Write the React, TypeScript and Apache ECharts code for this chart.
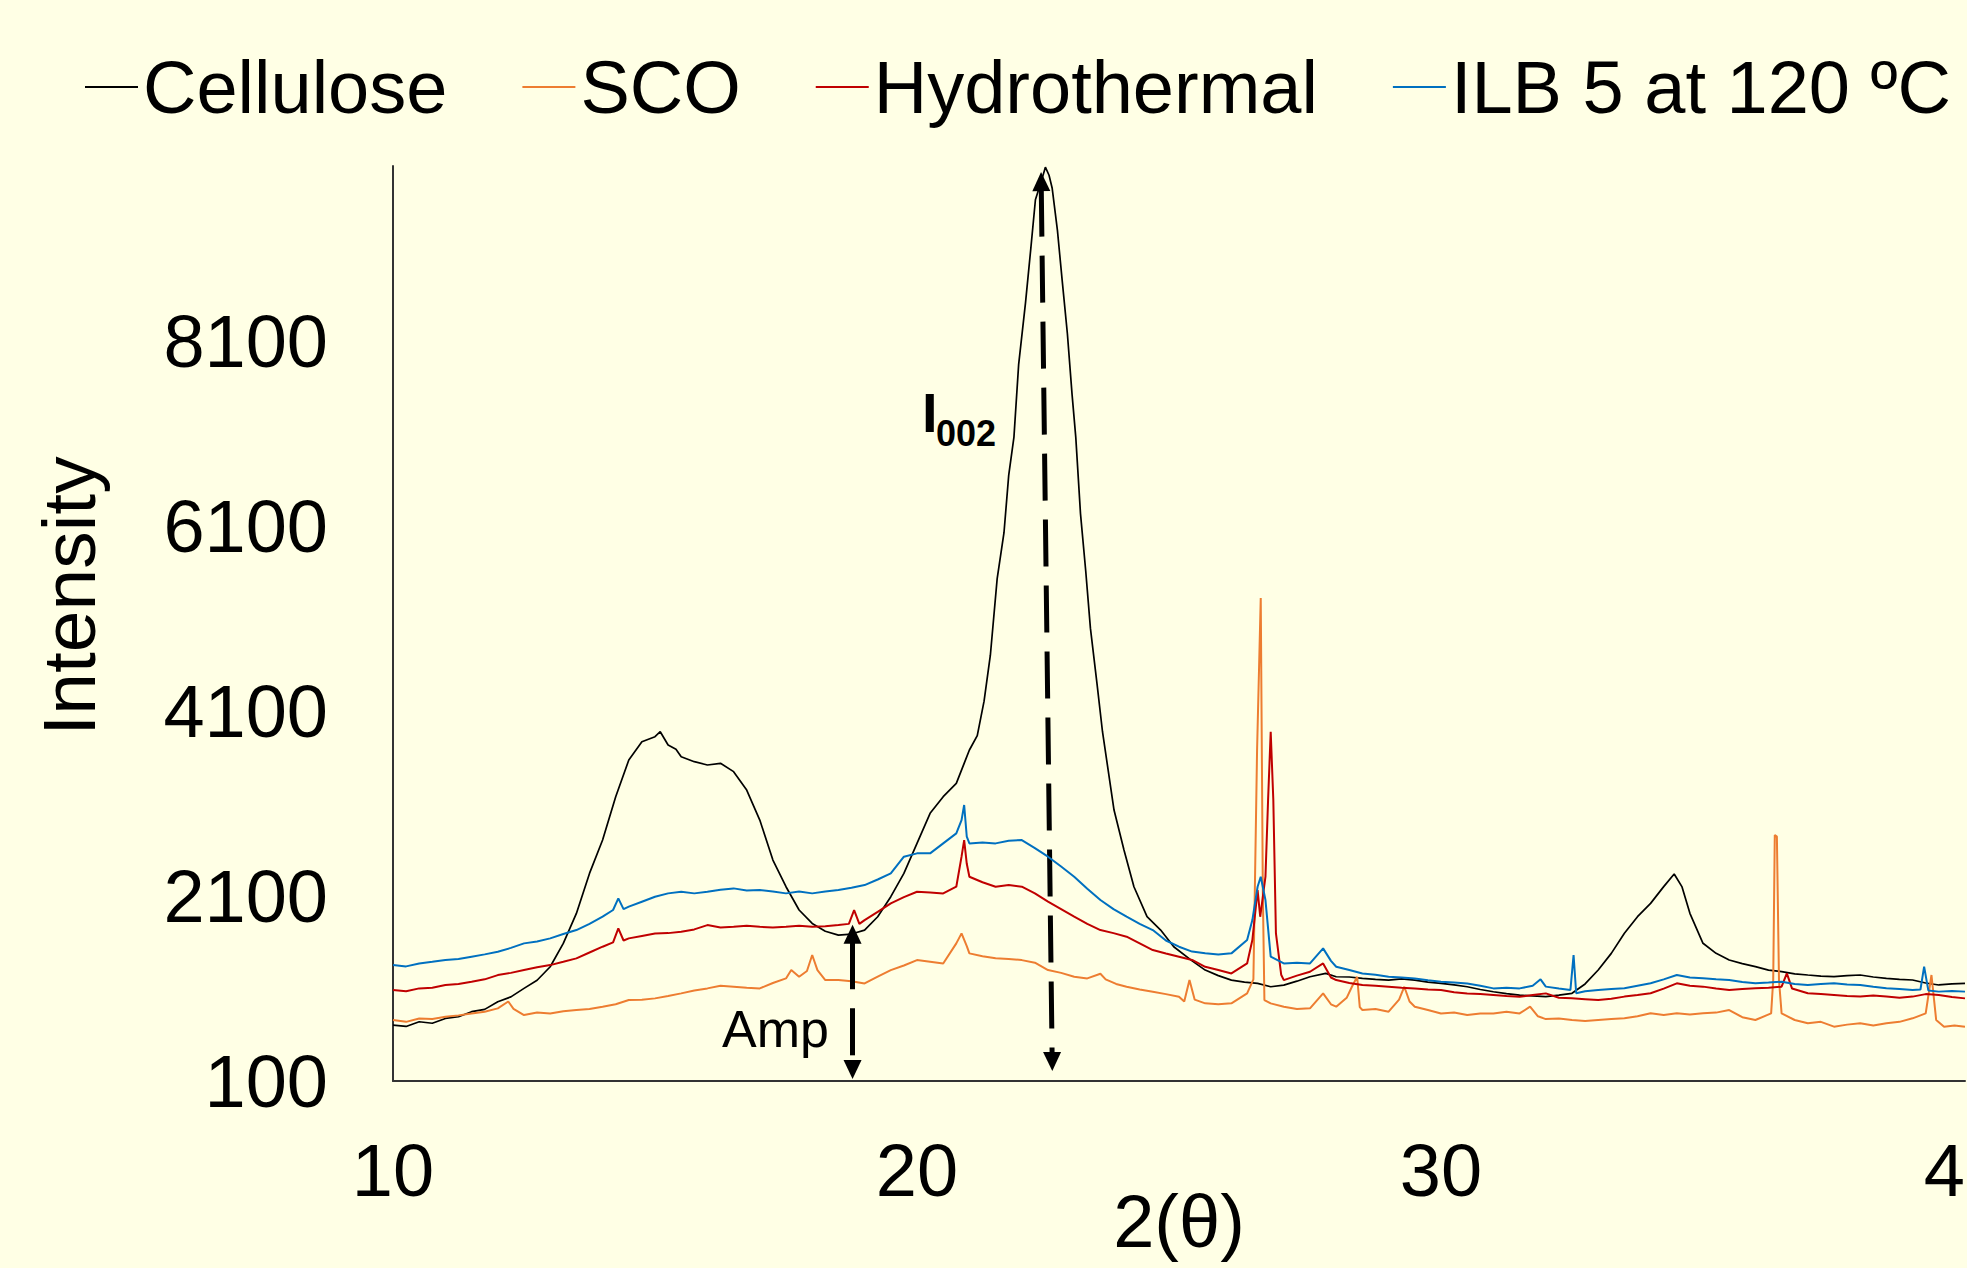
import React, { useEffect, useRef } from 'react';
import * as echarts from 'echarts';

const seriesNames = ['Cellulose', 'SCO', 'Hydrothermal', 'ILB 5 at 120 ºC'];
const seriesColors = ['#000000', '#ED7D31', '#C00000', '#0070C0'];
const yTickValues = [100, 2100, 4100, 6100, 8100];

const cellulose: [number, number][] = [
  [10, 705], [10.25, 690], [10.5, 741], [10.75, 725], [11, 777], [11.25, 795], [11.5, 850], [11.75, 875],
  [12, 958], [12.25, 1010], [12.5, 1102], [12.75, 1190], [13, 1336], [13.25, 1589], [13.5, 1913],
  [13.75, 2346], [14, 2707], [14.25, 3176], [14.5, 3573], [14.75, 3771], [15, 3825], [15.1, 3879],
  [15.25, 3735], [15.4, 3690], [15.5, 3609], [15.75, 3555], [16, 3519], [16.25, 3537], [16.5, 3447],
  [16.75, 3248], [17, 2923], [17.25, 2491], [17.5, 2202], [17.75, 1950], [18, 1805], [18.25, 1720],
  [18.5, 1679], [18.75, 1690], [19, 1733], [19.25, 1877], [19.5, 2094], [19.75, 2346], [20, 2671],
  [20.25, 2996], [20.5, 3176], [20.75, 3320], [20.9, 3537], [21, 3681], [21.15, 3837], [21.28, 4210],
  [21.4, 4707], [21.53, 5535], [21.66, 6032], [21.75, 6653], [21.85, 7067], [21.94, 7854], [22.07, 8517],
  [22.17, 9096], [22.26, 9635], [22.38, 9850], [22.45, 9987], [22.52, 9900], [22.58, 9759], [22.68, 9303],
  [22.77, 8765], [22.87, 8185], [22.96, 7523], [23.03, 7067], [23.12, 6239], [23.22, 5618], [23.31, 4997],
  [23.44, 4376], [23.54, 3879], [23.76, 3032], [23.95, 2599], [24.14, 2202], [24.39, 1878], [24.65, 1733],
  [24.9, 1553], [25.25, 1400], [25.5, 1300], [25.75, 1240], [26, 1192], [26.25, 1170], [26.5, 1156],
  [26.75, 1120], [27, 1138], [27.25, 1180], [27.5, 1228], [27.8, 1264], [28, 1228], [28.25, 1225],
  [28.5, 1210], [28.75, 1200], [29, 1192], [29.25, 1205], [29.5, 1192], [29.75, 1170], [30, 1156],
  [30.25, 1140], [30.5, 1120], [30.75, 1090], [31, 1066], [31.25, 1045], [31.5, 1030], [31.75, 1020],
  [32, 1012], [32.25, 1030], [32.5, 1049], [32.75, 1150], [33, 1301], [33.25, 1481], [33.5, 1698],
  [33.75, 1878], [34, 2022], [34.25, 2203], [34.45, 2340], [34.6, 2200], [34.75, 1914], [35, 1590],
  [35.25, 1481], [35.5, 1409], [35.75, 1370], [36, 1337], [36.25, 1300], [36.5, 1283], [36.75, 1260],
  [37, 1247], [37.25, 1235], [37.5, 1229], [37.75, 1240], [38, 1247], [38.25, 1225], [38.5, 1211],
  [38.75, 1200], [39, 1193], [39.25, 1160], [39.5, 1139], [39.75, 1150], [40, 1157]
];

const sco: [number, number][] = [
  [10, 759], [10.25, 740], [10.5, 777], [10.75, 770], [11, 795], [11.25, 810], [11.5, 831], [11.75, 850],
  [12, 886], [12.2, 960], [12.3, 880], [12.5, 813], [12.75, 840], [13, 831], [13.25, 855], [13.5, 868],
  [13.75, 880], [14, 904], [14.25, 930], [14.5, 976], [14.75, 980], [15, 994], [15.25, 1020], [15.5, 1048],
  [15.75, 1080], [16, 1102], [16.25, 1130], [16.5, 1120], [16.75, 1110], [17, 1102], [17.25, 1160],
  [17.5, 1210], [17.6, 1300], [17.75, 1228], [17.9, 1290], [18, 1463], [18.1, 1300], [18.25, 1192],
  [18.5, 1192], [18.75, 1180], [19, 1156], [19.25, 1230], [19.5, 1300], [19.75, 1350], [20, 1408],
  [20.25, 1390], [20.5, 1372], [20.75, 1589], [20.85, 1697], [20.95, 1560], [21, 1481], [21.25, 1450],
  [21.5, 1427], [21.75, 1420], [22, 1408], [22.25, 1380], [22.5, 1300], [22.75, 1270], [23, 1228],
  [23.25, 1210], [23.5, 1260], [23.6, 1200], [23.8, 1150], [24, 1120], [24.25, 1090], [24.5, 1066],
  [24.75, 1040], [25, 1012], [25.1, 960], [25.2, 1192], [25.3, 980], [25.5, 940], [25.75, 930], [26, 940],
  [26.3, 1048], [26.42, 1200], [26.49, 3681], [26.56, 5326], [26.6, 2134], [26.63, 976], [26.75, 940],
  [27, 904], [27.25, 880], [27.5, 886], [27.75, 1048], [27.9, 930], [28, 904], [28.2, 1000], [28.3, 1120],
  [28.4, 1228], [28.45, 900], [28.5, 868], [28.75, 880], [29, 850], [29.2, 980], [29.3, 1120], [29.4, 960],
  [29.5, 904], [29.75, 868], [30, 831], [30.25, 840], [30.5, 813], [30.75, 830], [31, 831], [31.25, 850],
  [31.5, 831], [31.7, 904], [31.85, 800], [32, 770], [32.25, 775], [32.5, 760], [32.75, 750], [33, 760],
  [33.25, 770], [33.5, 778], [33.75, 800], [34, 832], [34.25, 815], [34.5, 832], [34.75, 820], [35, 832],
  [35.25, 840], [35.5, 868], [35.75, 790], [36, 760], [36.3, 832], [36.34, 1193], [36.37, 2762],
  [36.41, 2744], [36.45, 1193], [36.5, 832], [36.75, 760], [37, 724], [37.25, 740], [37.5, 688],
  [37.75, 710], [38, 724], [38.25, 700], [38.5, 724], [38.75, 740], [39, 778], [39.25, 832], [39.36, 1247],
  [39.45, 760], [39.6, 688], [39.8, 700], [40, 688]
];

const hydrothermal: [number, number][] = [
  [10, 1084], [10.25, 1070], [10.5, 1102], [10.75, 1110], [11, 1138], [11.25, 1150], [11.5, 1174],
  [11.75, 1200], [12, 1246], [12.25, 1270], [12.5, 1300], [12.75, 1330], [13, 1354], [13.25, 1390],
  [13.5, 1427], [13.75, 1490], [14, 1553], [14.2, 1600], [14.3, 1751], [14.4, 1620], [14.5, 1643],
  [14.75, 1670], [15, 1697], [15.25, 1700], [15.5, 1715], [15.75, 1740], [16, 1787], [16.25, 1760],
  [16.5, 1769], [16.75, 1780], [17, 1769], [17.25, 1760], [17.5, 1769], [17.75, 1780], [18, 1769],
  [18.25, 1775], [18.5, 1787], [18.7, 1800], [18.8, 1949], [18.9, 1800], [19, 1841], [19.25, 1930],
  [19.5, 2022], [19.75, 2090], [20, 2148], [20.25, 2140], [20.5, 2130], [20.75, 2202], [20.85, 2527],
  [20.9, 2707], [20.95, 2450], [21, 2310], [21.25, 2250], [21.5, 2202], [21.75, 2220], [22, 2202],
  [22.25, 2130], [22.5, 2040], [22.75, 1960], [23, 1878], [23.25, 1800], [23.5, 1733], [23.75, 1700],
  [24, 1661], [24.25, 1590], [24.5, 1517], [24.75, 1480], [25, 1445], [25.25, 1410], [25.5, 1336],
  [25.75, 1300], [26, 1264], [26.3, 1372], [26.4, 1625], [26.5, 2166], [26.55, 1877], [26.65, 2310],
  [26.7, 3140], [26.75, 3879], [26.8, 3140], [26.85, 1697], [26.95, 1250], [27, 1192], [27.25, 1240],
  [27.5, 1282], [27.75, 1372], [27.9, 1220], [28, 1192], [28.25, 1160], [28.5, 1138], [28.75, 1130],
  [29, 1120], [29.25, 1110], [29.5, 1102], [29.75, 1090], [30, 1084], [30.25, 1060], [30.5, 1048],
  [30.75, 1040], [31, 1030], [31.25, 1020], [31.5, 1012], [31.75, 1030], [32, 1048], [32.25, 1000],
  [32.5, 994], [32.75, 985], [33, 976], [33.25, 990], [33.5, 1013], [33.75, 1030], [34, 1049],
  [34.25, 1100], [34.5, 1157], [34.75, 1130], [35, 1121], [35.25, 1100], [35.5, 1085], [35.75, 1095],
  [36, 1103], [36.25, 1110], [36.5, 1121], [36.6, 1265], [36.7, 1100], [37, 1049], [37.25, 1040],
  [37.5, 1031], [37.75, 1020], [38, 1013], [38.25, 1025], [38.5, 1013], [38.75, 1000], [39, 1013],
  [39.25, 1040], [39.5, 1031], [39.75, 1010], [40, 994]
];

const ilb: [number, number][] = [
  [10, 1354], [10.25, 1340], [10.5, 1372], [10.75, 1390], [11, 1409], [11.25, 1420], [11.5, 1445],
  [11.75, 1470], [12, 1499], [12.25, 1540], [12.5, 1589], [12.75, 1610], [13, 1643], [13.25, 1690],
  [13.5, 1733], [13.75, 1800], [14, 1878], [14.2, 1950], [14.3, 2076], [14.4, 1960], [14.5, 1986],
  [14.75, 2040], [15, 2094], [15.25, 2130], [15.5, 2148], [15.75, 2130], [16, 2148], [16.25, 2170],
  [16.5, 2184], [16.75, 2160], [17, 2166], [17.25, 2150], [17.5, 2130], [17.75, 2150], [18, 2130],
  [18.25, 2150], [18.5, 2166], [18.75, 2190], [19, 2220], [19.25, 2280], [19.5, 2346], [19.75, 2527],
  [20, 2563], [20.25, 2563], [20.5, 2671], [20.75, 2779], [20.85, 2923], [20.9, 3086], [20.95, 2743],
  [21, 2671], [21.25, 2680], [21.5, 2671], [21.75, 2700], [22, 2707], [22.25, 2620], [22.5, 2527],
  [22.75, 2420], [23, 2310], [23.25, 2180], [23.5, 2058], [23.75, 1960], [24, 1878], [24.25, 1800],
  [24.5, 1733], [24.75, 1620], [25, 1553], [25.25, 1500], [25.5, 1481], [25.75, 1470], [26, 1481],
  [26.3, 1625], [26.4, 1841], [26.5, 2202], [26.56, 2310], [26.65, 2058], [26.75, 1445], [27, 1372],
  [27.25, 1380], [27.5, 1372], [27.75, 1535], [27.9, 1400], [28, 1336], [28.25, 1300], [28.5, 1264],
  [28.75, 1250], [29, 1228], [29.25, 1220], [29.5, 1210], [29.75, 1190], [30, 1174], [30.25, 1165],
  [30.5, 1156], [30.75, 1130], [31, 1102], [31.25, 1110], [31.5, 1102], [31.75, 1130], [31.9, 1200],
  [32, 1121], [32.25, 1100], [32.47, 1085], [32.53, 1463], [32.58, 1049], [32.75, 1070], [33, 1085],
  [33.25, 1095], [33.5, 1103], [33.75, 1130], [34, 1157], [34.25, 1200], [34.5, 1247], [34.75, 1220],
  [35, 1211], [35.25, 1200], [35.5, 1193], [35.75, 1170], [36, 1157], [36.25, 1165], [36.5, 1175],
  [36.75, 1150], [37, 1139], [37.25, 1150], [37.5, 1157], [37.75, 1145], [38, 1139], [38.25, 1120],
  [38.5, 1103], [38.75, 1095], [39, 1085], [39.15, 1090], [39.22, 1337], [39.3, 1080], [39.5, 1067],
  [39.75, 1075], [40, 1067]
];

const ampArrow: [number, number][] = [[18.77, 1687], [18.77, 225]];
const i002Arrow: [number, number][] = [[22.37, 9831], [22.58, 311]];

const FONT = "'Liberation Sans', Arial, Helvetica, sans-serif";

export default function App() {
  const ref = useRef<HTMLDivElement>(null);
  useEffect(() => {
    if (!ref.current) return;
    const chart = echarts.init(ref.current, null, { renderer: 'svg' });
    const datasets = [cellulose, sco, hydrothermal, ilb];
    const series: any[] = datasets.map((d, i) => ({
      name: seriesNames[i],
      type: 'line',
      data: d,
      showSymbol: false,
      symbol: 'none',
      color: seriesColors[i],
      lineStyle: { width: i === 0 ? 1.7 : 2, color: seriesColors[i] },
      emphasis: { disabled: true },
      z: 2 + i,
    }));
    series.push({
      name: 'annotations',
      type: 'line',
      data: [],
      symbol: 'none',
      z: 10,
      markLine: {
        symbol: ['triangle', 'triangle'],
        symbolSize: [18, 19],
        silent: true,
        label: { show: false },
        emphasis: { disabled: true },
        itemStyle: { color: '#000' },
        data: [
          [{ coord: i002Arrow[0] }, { coord: i002Arrow[1] }],
          [{ coord: ampArrow[0] }, { coord: ampArrow[1] }],
        ],
        lineStyle: { color: '#000', width: 5, type: [47, 19], dashOffset: 58, opacity: 1 },
      },
    });
    chart.setOption({
      animation: false,
      backgroundColor: '#FFFFE5',
      textStyle: { fontFamily: FONT },
      grid: { left: 393, right: 2, top: 166, bottom: 187, containLabel: false, outerBoundsMode: 'none' },
      legend: {
        data: seriesNames,
        left: 85,
        top: 50,
        padding: 0,
        icon: 'rect',
        itemWidth: 53,
        itemHeight: 2,
        itemGap: 75,
        selectedMode: false,
        textStyle: { fontSize: 74, color: '#000', fontFamily: FONT },
      },
      xAxis: {
        type: 'value',
        min: 10,
        max: 40,
        interval: 10,
        name: '2(θ)',
        nameLocation: 'middle',
        nameGap: 103,
        nameMoveOverlap: false,
        nameTextStyle: { fontSize: 74, color: '#000', fontFamily: FONT },
        axisLine: { show: true, lineStyle: { color: '#333', width: 2 } },
        axisTick: { show: false },
        splitLine: { show: false },
        axisLabel: { fontSize: 74, color: '#000', margin: 52, fontFamily: FONT },
      },
      yAxis: {
        type: 'value',
        min: 100,
        max: 10000,
        axisLine: { show: true, lineStyle: { color: '#333', width: 2 } },
        axisTick: { show: false },
        splitLine: { show: false },
        axisLabel: {
          fontSize: 74, color: '#000', margin: 65, fontFamily: FONT,
          customValues: yTickValues,
          formatter: (v: number) => String(v),
        },
      },
      graphic: [
        {
          type: 'text', x: 69, y: 596, rotation: Math.PI / 2,
          style: { text: 'Intensity', fontSize: 75, fontFamily: FONT, fill: '#000', align: 'center', verticalAlign: 'middle' },
        },
        {
          type: 'text', x: 922, y: 412,
          style: { text: 'I', fontSize: 56, fontWeight: 'bold', fontFamily: FONT, fill: '#000', align: 'left', verticalAlign: 'middle' },
        },
        {
          type: 'text', x: 936, y: 433,
          style: { text: '002', fontSize: 36, fontWeight: 'bold', fontFamily: FONT, fill: '#000', align: 'left', verticalAlign: 'middle' },
        },
        {
          type: 'text', x: 722, y: 1029,
          style: { text: 'Amp', fontSize: 52, fontFamily: FONT, fill: '#000', align: 'left', verticalAlign: 'middle' },
        },
      ],
      series,
    });
    return () => chart.dispose();
  }, []);
  return (
    <div
      ref={ref}
      style={{ position: 'fixed', left: 0, top: 0, width: 1967, height: 1268, background: '#FFFFE5' }}
    />
  );
}
